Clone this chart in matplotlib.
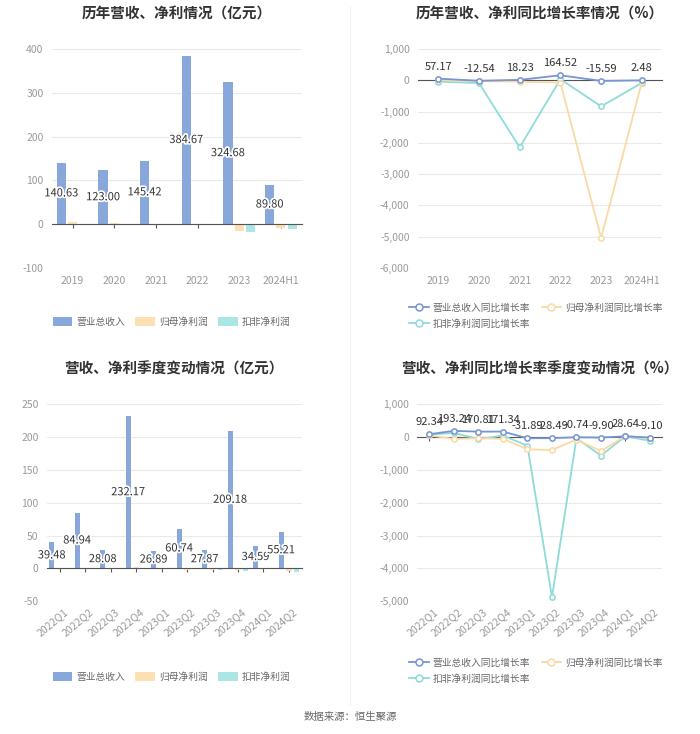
import matplotlib
matplotlib.use("Agg")
import matplotlib.pyplot as plt
import matplotlib.patheffects as pe
from matplotlib.lines import Line2D
from matplotlib.patches import Patch
import numpy as np

plt.rcParams['font.family'] = ['Noto Sans CJK SC', 'DejaVu Sans']

# ---- data ----
years = ["2019", "2020", "2021", "2022", "2023", "2024H1"]
rev_y = [140.63, 123.00, 145.42, 384.67, 324.68, 89.80]
np_y = [4.0, 2.0, 1.0, 0.3, -15.0, -9.0]
kf_y = [1.0, 0.3, -2.0, 0.5, -17.5, -10.0]

rev_g_y = [57.17, -12.54, 18.23, 164.52, -15.59, 2.48]
np_g_y = [12, -25, -40, -70, -5040, -55]
kf_g_y = [-40, -85, -2140, 40, -830, -80]

quarters = ["2022Q1", "2022Q2", "2022Q3", "2022Q4", "2023Q1",
            "2023Q2", "2023Q3", "2023Q4", "2024Q1", "2024Q2"]
rev_q = [39.48, 84.94, 28.08, 232.17, 26.89, 60.74, 27.87, 209.18, 34.59, 55.21]
np_q = [0.5, 1.0, -1.2, 1.5, -0.8, -2.0, -2.5, -3.0, -1.0, -4.5]
kf_q = [0.3, 0.5, -1.0, 0.8, -1.0, -1.5, -2.5, -4.5, -1.5, -6.0]

rev_g_q = [92.34, 193.24, 170.81, 171.34, -31.89, -28.49, -0.74, -9.90, 28.64, -9.10]
np_g_q = [60, -55, -30, -50, -370, -390, -70, -420, 40, -30]
kf_g_q = [80, 130, -55, 50, -260, -4880, -30, -560, 30, -110]

bar_names = ["营业总收入", "归母净利润", "扣非净利润"]
line_names = ["营业总收入同比增长率", "归母净利润同比增长率", "扣非净利润同比增长率"]

c_bar = ["#88a7db", "#fde0b2", "#abe6e6"]
c_line = ["#7795d3", "#fad9a4", "#8fdada"]
grid_c = "#e9e9e9"
tick_c = "#9a9a9a"
label_c = "#333333"

fig = plt.figure(figsize=(7.0, 7.34), dpi=100)

def setup(ax, cats, ylim, yticks, fmt, rotate=False):
    ax.set_xlim(-0.5, len(cats) - 0.5)
    ax.set_ylim(*ylim)
    ax.set_yticks(yticks)
    ax.set_yticklabels([fmt(v) for v in yticks], color=tick_c, fontsize=7.5)
    ax.yaxis.grid(True, color=grid_c, lw=0.8)
    ax.set_axisbelow(True)
    for s in ["top", "right", "left"]:
        ax.spines[s].set_visible(False)
    ax.spines["bottom"].set_position(("data", 0))
    ax.spines["bottom"].set_color("#555555")
    ax.spines["bottom"].set_linewidth(0.8)
    ax.tick_params(axis="y", length=0, pad=6)
    ax.tick_params(axis="x", length=3, color="#555555", labelbottom=False)
    ax.set_xticks(range(len(cats)))
    tr = ax.get_xaxis_transform()
    for i, c in enumerate(cats):
        if rotate:
            ax.text(i + 0.15, -0.03, c, transform=tr, rotation=40, ha="right", va="top",
                    rotation_mode="anchor", color=tick_c, fontsize=7.5)
        else:
            ax.text(i, -0.035, c, transform=tr, ha="center", va="top",
                    color=tick_c, fontsize=7.5)

def bars(ax, cats, series, w, off):
    x = np.arange(len(cats))
    for k, vals in enumerate(series):
        ax.bar(x + (k - 1) * off, vals, width=w, color=c_bar[k], zorder=2)
    for i, v in enumerate(series[0]):
        ax.text(x[i] - off, v / 2, f"{v:.2f}", ha="center", va="center", fontsize=8,
                color=label_c, zorder=4,
                path_effects=[pe.withStroke(linewidth=2.5, foreground="white")])

def lines(ax, cats, series):
    x = np.arange(len(cats))
    for k in [2, 1, 0]:
        ax.plot(x, series[k], color=c_line[k], lw=1.3, marker="o", ms=3.8,
                mfc="white", mec=c_line[k], mew=1.1, zorder=3 + (2 - k))
    for i, v in enumerate(series[0]):
        ax.annotate(f"{v:.2f}", (x[i], v), xytext=(0, 5), textcoords="offset points",
                    ha="center", va="bottom", fontsize=8, color=label_c, zorder=6)

def bar_legend(x, y):
    hs = [Patch(facecolor=c_bar[k], edgecolor="none") for k in range(3)]
    fig.legend(hs, bar_names, loc="center", bbox_to_anchor=(x, y), ncol=3, frameon=False,
               fontsize=7, labelcolor="#666666", handlelength=2.0, handleheight=1.0,
               columnspacing=1.1, handletextpad=0.4)

def line_legend(x, y):
    hs = [Line2D([0], [0], color=c_line[k], lw=1.3, marker="o", ms=5, mfc="white",
                 mec=c_line[k], mew=1.1) for k in range(3)]
    fig.legend([hs[0], hs[2], hs[1]], [line_names[0], line_names[2], line_names[1]],
               loc="upper left", bbox_to_anchor=(x, y), ncol=2, frameon=False,
               fontsize=7, labelcolor="#666666", handlelength=2.0,
               columnspacing=1.2, handletextpad=0.4, labelspacing=0.6)

fmt_int = lambda v: f"{v:.0f}"
fmt_th = lambda v: f"{v:,.0f}"

title_kw = dict(fontsize=10.5, fontweight="bold", color="#333333", pad=22)

# top-left
ax1 = fig.add_axes([0.074, 0.635, 0.357, 0.298])
setup(ax1, years, (-100, 400), [-100, 0, 100, 200, 300, 400], fmt_int)
bars(ax1, years, [rev_y, np_y, kf_y], 0.22, 0.27)
ax1.set_title("历年营收、净利情况（亿元）", **title_kw)

# top-right
ax2 = fig.add_axes([0.597, 0.635, 0.349, 0.298])
setup(ax2, years, (-6000, 1000), list(range(-6000, 1001, 1000)), fmt_th)
lines(ax2, years, [rev_g_y, np_g_y, kf_g_y])
ax2.set_title("历年营收、净利同比增长率情况（%）", **title_kw)

# bottom-left
ax3 = fig.add_axes([0.067, 0.181, 0.364, 0.268])
setup(ax3, quarters, (-50, 250), [-50, 0, 50, 100, 150, 200, 250], fmt_int, rotate=True)
bars(ax3, quarters, [rev_q, np_q, kf_q], 0.2, 0.31)
ax3.set_title("营收、净利季度变动情况（亿元）", **title_kw)

# bottom-right
ax4 = fig.add_axes([0.596, 0.181, 0.35, 0.268])
setup(ax4, quarters, (-5000, 1000), list(range(-5000, 1001, 1000)), fmt_th, rotate=True)
lines(ax4, quarters, [rev_g_q, np_g_q, kf_g_q])
ax4.set_title("营收、净利同比增长率季度变动情况（%）", **title_kw)

bar_legend(0.245, 1 - 322 / 734)
bar_legend(0.245, 1 - 677 / 734)
line_legend(0.572, 1 - 294 / 734)
line_legend(0.572, 1 - 649 / 734)

# faint divider
fig.add_artist(Line2D([0.5, 0.5], [0.04, 0.99], color="#f0f0f0", lw=0.8))

fig.text(0.5, 1 - 717 / 734, "数据来源：恒生聚源", ha="center", va="center",
         fontsize=7.5, color="#666666")

fig.savefig("out.png", dpi=100, facecolor="white")
